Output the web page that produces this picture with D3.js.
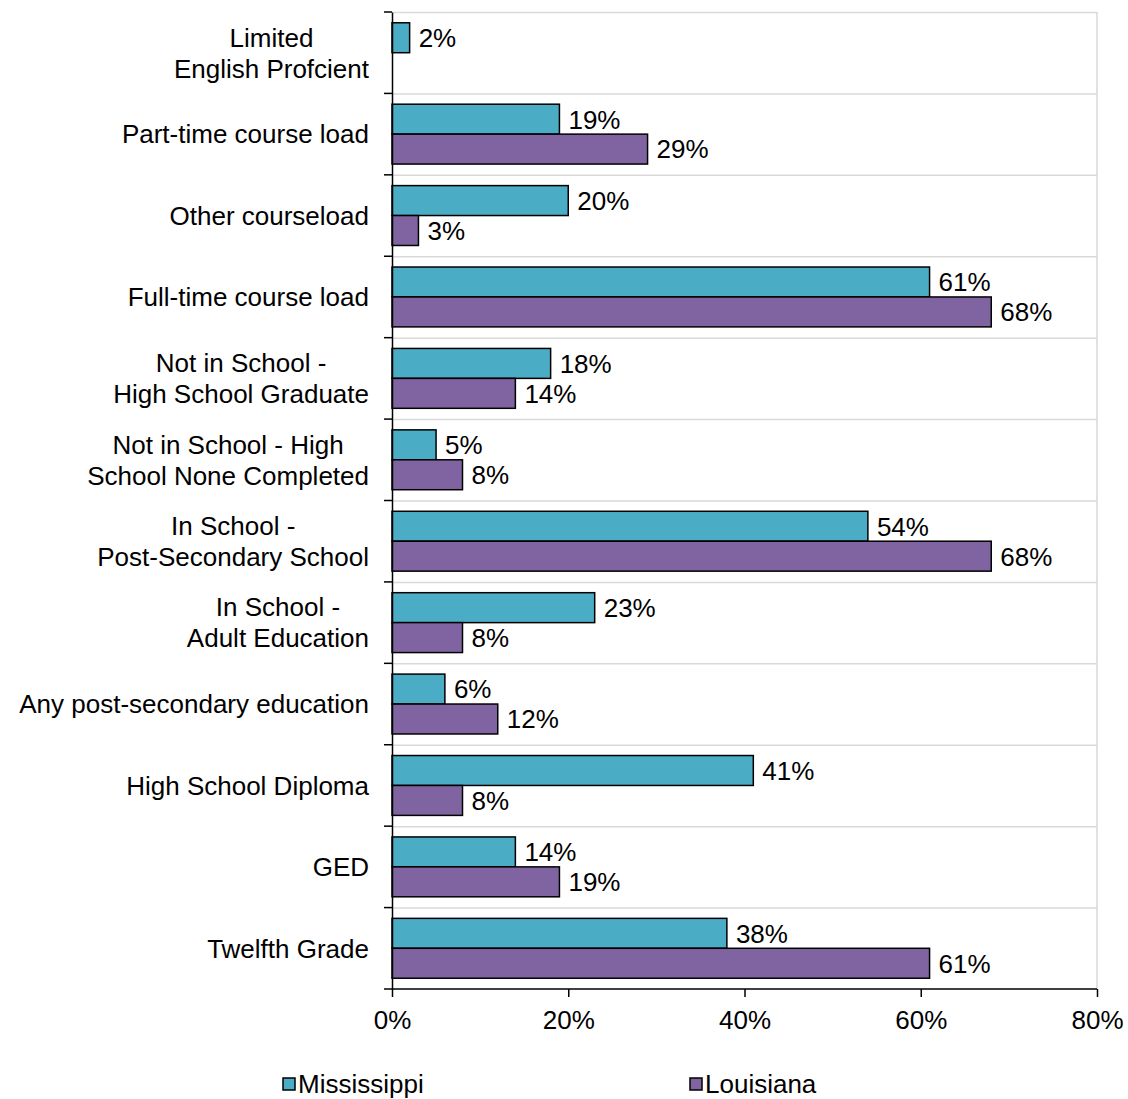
<!DOCTYPE html>
<html>
<head>
<meta charset="utf-8">
<script src="https://cdn.jsdelivr.net/npm/d3@7"></script>
<style>
  html, body { margin: 0; padding: 0; background: #ffffff; }
  svg { display: block; font-family: "Liberation Sans", Arial, sans-serif; }
</style>
</head>
<body>
<svg id="chart" width="1128" height="1099"></svg>
<script>
// Category labels, top to bottom (line breaks as "\n")
const categories = [
  "Limited\nEnglish Profcient",
  "Part-time course load",
  "Other courseload",
  "Full-time course load",
  "Not in School -\nHigh School Graduate",
  "Not in School - High\nSchool None Completed",
  "In School -\nPost-Secondary School",
  "In School -\nAdult Education",
  "Any post-secondary education",
  "High School Diploma",
  "GED",
  "Twelfth Grade"
];

const seriesNames = ["Mississippi", "Louisiana"];

// Shares per category (same order as categories); null = no value
const mississippi = [0.02, 0.19, 0.20, 0.61, 0.18, 0.05, 0.54, 0.23, 0.06, 0.41, 0.14, 0.38];
const louisiana   = [null, 0.29, 0.03, 0.68, 0.14, 0.08, 0.68, 0.08, 0.12, 0.08, 0.19, 0.61];

const xTicks = [0, 0.2, 0.4, 0.6, 0.8];

const colors = { Mississippi: "#4bacc6", Louisiana: "#8064a2" };

const svg = d3.select("#chart");
const margin = { top: 12, right: 31, bottom: 110, left: 392 };
const W = +svg.attr("width"), H = +svg.attr("height");
const innerW = W - margin.left - margin.right;
const innerH = H - margin.top - margin.bottom;
const fontSize = 26;

const g = svg.append("g").attr("transform", `translate(${margin.left},${margin.top})`);

const x = d3.scaleLinear().domain([0, 0.8]).range([0, innerW]);
const y0 = d3.scaleBand().domain(categories).range([0, innerH]);
const y1 = d3.scaleBand().domain(seriesNames).range([0, y0.bandwidth()]).paddingOuter(0.36);

// Horizontal gridlines at category boundaries
const bounds = categories.map(c => y0(c));
g.append("g").selectAll("line").data(bounds).join("line")
  .attr("x1", 0).attr("x2", innerW)
  .attr("y1", d => d + 0.5).attr("y2", d => d + 0.5)
  .attr("stroke", "#d9d9d9").attr("stroke-width", 1.5);
// Right border of the plot
g.append("line").attr("x1", innerW).attr("x2", innerW).attr("y1", 0).attr("y2", innerH)
  .attr("stroke", "#d9d9d9").attr("stroke-width", 1.5);

// Bars
const rows = categories.map((c, i) => ({
  cat: c,
  values: [
    { name: "Mississippi", v: mississippi[i] },
    { name: "Louisiana", v: louisiana[i] }
  ].filter(d => d.v !== null)
}));

const fmt = d3.format(".0%");

const rowG = g.append("g").selectAll("g").data(rows).join("g")
  .attr("transform", d => `translate(0,${y0(d.cat)})`);

rowG.selectAll("rect").data(d => d.values).join("rect")
  .attr("x", 0)
  .attr("y", d => y1(d.name))
  .attr("width", d => x(d.v))
  .attr("height", y1.bandwidth())
  .attr("fill", d => colors[d.name])
  .attr("stroke", "#000")
  .attr("stroke-width", 1.5);

rowG.selectAll("text.val").data(d => d.values).join("text")
  .attr("class", "val")
  .attr("x", d => x(d.v) + 9)
  .attr("y", d => y1(d.name) + y1.bandwidth() / 2)
  .attr("dy", "0.36em")
  .attr("font-size", fontSize)
  .attr("fill", "#000")
  .text(d => fmt(d.v));

// Y axis
const yAxis = g.append("g").call(d3.axisLeft(y0).tickSize(0).tickFormat(""));
yAxis.select(".domain").attr("stroke", "#000").attr("stroke-width", 1.5);
// category boundary ticks
g.append("g").selectAll("line").data(bounds.concat([innerH])).join("line")
  .attr("x1", -8).attr("x2", 0)
  .attr("y1", d => d).attr("y2", d => d)
  .attr("stroke", "#000").attr("stroke-width", 1.5);

// Category labels: multi-line labels are centred within their block, block right-aligned
const labelRight = -23;
const lineH = 31;
categories.forEach(c => {
  const lines = c.split("\n");
  const cy = y0(c) + y0.bandwidth() / 2;
  const t = g.append("text").attr("font-size", fontSize).attr("fill", "#000");
  lines.forEach((ln, i) => {
    t.append("tspan").attr("y", cy + (i - (lines.length - 1) / 2) * lineH).attr("dy", "0.36em").text(ln);
  });
  const widths = [];
  t.selectAll("tspan").each(function () { widths.push(this.getComputedTextLength()); });
  const maxW = d3.max(widths);
  const centerX = labelRight - maxW / 2;
  t.selectAll("tspan").attr("x", centerX).attr("text-anchor", "middle");
});

// X axis
const xAxis = g.append("g").attr("transform", `translate(0,${innerH})`)
  .call(d3.axisBottom(x).tickValues(xTicks).tickFormat(fmt).tickSize(8).tickPadding(14));
xAxis.select(".domain").attr("stroke", "#000").attr("stroke-width", 1.5);
xAxis.selectAll(".tick line").attr("stroke", "#000").attr("stroke-width", 1.5);
xAxis.selectAll(".tick text").attr("font-size", fontSize).attr("fill", "#000")
  .attr("font-family", "'Liberation Sans', Arial, sans-serif");
xAxis.selectAll(".domain").attr("d", `M0,0H${innerW}`);

// Legend
const legendX = { Mississippi: 283, Louisiana: 690 };
const legend = svg.append("g").selectAll("g").data(seriesNames).join("g")
  .attr("transform", d => `translate(${legendX[d]},1078)`);
legend.append("rect").attr("width", 12).attr("height", 12)
  .attr("fill", d => colors[d]).attr("stroke", "#000").attr("stroke-width", 1.5);
legend.append("text").attr("x", 15).attr("y", 6).attr("dy", "0.36em")
  .attr("font-size", fontSize).attr("fill", "#000").text(d => d);
</script>
</body>
</html>
